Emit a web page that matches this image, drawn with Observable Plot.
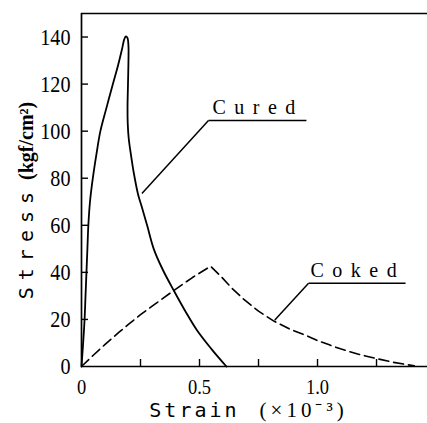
<!DOCTYPE html>
<html><head><meta charset="utf-8">
<script src="https://cdn.jsdelivr.net/npm/d3@7"></script>
<script src="https://cdn.jsdelivr.net/npm/@observablehq/plot@0.6"></script>
<style>
body{margin:0;background:#fff;}
</style></head><body><div id="chart"></div>
<script>
// Cured specimen (solid line)
const curedStrain = [0,0.007,0.013,0.017,0.021,0.025,0.029,0.036,0.048,0.063,0.080,0.106,0.133,0.155,0.172,0.181,0.188,0.195,0.199,0.199,0.197,0.195,0.196,0.200,0.208,0.222,0.240,0.255,0.278,0.306,0.345,0.391,0.440,0.490,0.550,0.614];
const curedStress = [0,10,20,30,40,50,60,70,80,90,100,110,120,128,135,139,140.3,139.5,136,130,120,110,103,97,91,82,73,68,60,50,41,32.3,23.5,15.3,7.5,0];
// Coked specimen (dashed line)
const cokedStrain = [0,0.05,0.10,0.158,0.20,0.25,0.314,0.391,0.47,0.547,0.589,0.64,0.688,0.75,0.815,0.88,0.956,1.0,1.05,1.097,1.17,1.253,1.32,1.366,1.41];
const cokedStress = [0,4.8,9.4,14.5,18,22,26.7,32.3,37.8,42.6,38.5,33,28.5,23.5,19.3,16,13,11,9.2,7.5,5.3,3.3,1.8,1.0,0.3];

const xTicks = [0.25,0.5,0.75,1.0,1.25];
const xTickLabels = [0,0.5,1.0];
const yTicks = [0,20,40,60,80,100,120,140];
const xLabel = "Strain (×10⁻³)";
const yLabel = "Stress (kgf/cm²)";

const seriesNames = ["Cured","Coked"];
const labelStrain = [0.555,0.970];
const labelStress = [107.5,38];
const underlineStart = [0.538,0.962];
const underlineEnd = [0.953,1.373];
const underlineStress = [104.5,35.4];
const leaderStrain = [0.256,0.819];
const leaderStress = [73.5,19.8];

const cured = curedStrain.map((x,i)=>({x, y: curedStress[i]}));
const coked = cokedStrain.map((x,i)=>({x, y: cokedStress[i]}));
const ann = seriesNames.map((name,i)=>({name, lx: labelStrain[i], ly: labelStress[i],
  u1: underlineStart[i], u2: underlineEnd[i], uy: underlineStress[i],
  px: leaderStrain[i], py: leaderStress[i]}));

const W = 427, H = 423, mL = 81, mR = 0, mT = 13, mB = 57, tickLen = 7;
const frameW = W - mL - mR, frameH = H - mT - mB;

const chart = Plot.plot({
  width: W, height: H,
  marginLeft: mL, marginRight: mR, marginTop: mT, marginBottom: mB,
  x: {domain: [0, 1.466]},
  y: {domain: [0, 150]},
  style: {fontFamily: "Liberation Serif", fontSize: "21px", color: "black", background: "white"},
  marks: [
    Plot.axisX(xTickLabels, {tickSize: 0, tickPadding: 12, tickFormat: d => d === 0 ? "0" : d.toFixed(1), label: null, fontSize: 22}),
    Plot.axisY(yTicks, {tickSize: 0, tickPadding: 11, tickFormat: d => String(d), label: null, fontSize: 24}),
    Plot.ruleX([0], {strokeWidth: 1.7}),
    Plot.ruleY([0, 150], {strokeWidth: 1.7}),
    // inward tick marks
    Plot.ruleX(xTicks, {x: d => d, insetTop: frameH - tickLen, stroke: "black", strokeWidth: 1.4}),
    Plot.ruleY(yTicks.filter(d => d > 0), {y: d => d, insetRight: frameW - tickLen, stroke: "black", strokeWidth: 1.4}),
    Plot.line(cured, {x: "x", y: "y", stroke: "black", strokeWidth: 1.8, curve: "catmull-rom"}),
    Plot.line(coked, {x: "x", y: "y", stroke: "black", strokeWidth: 1.6, strokeDasharray: "10,5"}),
    Plot.link(ann, {x1: "px", y1: "py", x2: "u1", y2: "uy", stroke: "black", strokeWidth: 1.5}),
    Plot.link(ann, {x1: "u1", y1: "uy", x2: "u2", y2: "uy", stroke: "black", strokeWidth: 1.5}),
    Plot.text(ann, {x: "lx", y: "ly", text: "name", textAnchor: "start", lineAnchor: "bottom", fontSize: 20, fontFamily: "Liberation Serif"}),
    Plot.text([xLabel], {frameAnchor: "bottom", dx: -6, dy: 50, lineAnchor: "bottom", fontSize: 20}),
    Plot.text([yLabel], {frameAnchor: "left", fontSize: 20})
  ]
});
document.getElementById("chart").appendChild(chart);

const svg = d3.select(chart);
// condensed look for the tick numbers
const tickStrings = new Set(["0","0.5","1.0", ...yTicks.map(String)]);
svg.selectAll("text").filter(function(){ return tickStrings.has(this.textContent); })
  .each(function(){
    const tr = this.getAttribute("transform");
    if (tr) this.setAttribute("transform", tr + " scale(0.84,1)");
  });
svg.selectAll("text").filter(function(){ return seriesNames.includes(this.textContent); })
  .style("letter-spacing", "8.5px");
svg.selectAll("text").filter(function(){ return this.textContent === xLabel; })
  .each(function(){
    const t = d3.select(this);
    t.text(null);
    t.append("tspan").text("Strain").style("font-family", "DejaVu Sans Mono").style("letter-spacing", "3px");
    t.append("tspan").text("(×10⁻³)").attr("dx", 20).style("font-family", "Liberation Serif").style("font-size", "21px").style("letter-spacing", "4px");
  });
svg.selectAll("text").filter(function(){ return this.textContent === yLabel; })
  .each(function(){
    const t = d3.select(this);
    t.text(null);
    t.attr("x", 0).attr("y", 0).attr("text-anchor", "middle")
     .attr("transform", "translate(32,200) rotate(-90)");
    t.append("tspan").text("Stress").style("font-family", "DejaVu Sans Mono").style("letter-spacing", "7px");
    t.append("tspan").text(" (kgf/cm²)").style("font-family", "Liberation Serif").style("font-weight", "bold");
  });
</script>
</body></html>
